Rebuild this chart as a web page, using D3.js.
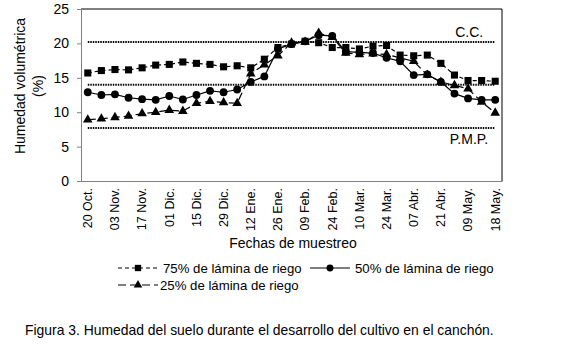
<!DOCTYPE html>
<html>
<head>
<meta charset="utf-8">
<script src="https://cdn.jsdelivr.net/npm/d3@7"></script>
<style>
  body { margin: 0; background: #fff; }
  svg text { font-family: "Liberation Sans", Arial, sans-serif; fill: #000; }
</style>
</head>
<body>
<svg width="587" height="353"></svg>
<script>
// 31 fechas de muestreo, etiqueta cada dos
const tickLabels = ['20 Oct.', '03 Nov.', '17 Nov.', '01 Dic.', '15 Dic.', '29 Dic.', '12 Ene.', '26 Ene.',
  '09 Feb.', '24 Feb.', '10 Mar.', '24 Mar.', '07 Abr.', '21 Abr.', '09 May.', '18 May.'];
const yTicks = [0, 5, 10, 15, 20, 25];

const lamina75 = [15.7, 16.05, 16.2, 16.15, 16.45, 16.85, 16.95, 17.3, 17.1, 16.95, 16.6, 16.75, 16.45, 17.7, 19.4,
  19.9, 20.3, 20.1, 19.4, 19.4, 19.2, 19.6, 19.7, 18.3, 18.2, 18.3, 17.1, 15.4, 14.6, 14.6, 14.5];
const lamina50 = [12.9, 12.5, 12.6, 12.1, 11.9, 11.8, 12.35, 11.85, 12.5, 13.1, 12.9, 13.3, 14.4, 15.2, 19.2,
  19.9, 20.3, 21.2, 21.1, 18.8, 18.7, 18.6, 17.9, 17.4, 15.4, 15.5, 14.4, 12.7, 12.0, 11.8, 11.8];
const lamina25 = [8.9, 9.05, 9.25, 9.45, 9.8, 10.0, 10.3, 10.15, 11.3, 11.6, 11.4, 11.3, 15.6, 16.9, 18.2,
  20.1, 20.2, 21.5, 20.9, 18.6, 18.4, 18.5, 18.4, 17.9, 17.4, 15.4, 14.4, 13.9, 13.4, 11.5, 9.9];

// capacidad de campo, valor intermedio, punto de marchitez permanente
const refLines = [20.2, 14.0, 7.7];
const refLabels = [{v: 20.2, t: 'C.C.', dx: -12, dy: -5}, {v: 7.7, t: 'P.M.P.', dx: -7, dy: 16}];

function whenLoaded(){
  const svg = d3.select('svg');
  const margin = {top: 9, left: 81, right: 85, bottom: 172};
  const width = +svg.attr('width');
  const height = +svg.attr('height');
  const innerWidth = width - margin.left - margin.right;
  const innerHeight = height - margin.top - margin.bottom;

  const n = lamina75.length;
  const xScale = d3.scaleBand().domain(d3.range(n)).range([0, innerWidth]);
  const xPos = i => xScale(i) + xScale.bandwidth() / 2;
  const yScale = d3.scaleLinear().domain([0, 25]).range([innerHeight, 0]);

  const g = svg.append('g').attr('transform', `translate(${margin.left},${margin.top})`);

  // marco
  g.append('line').attr('x1', 0).attr('x2', innerWidth).attr('y1', 0).attr('y2', 0).attr('stroke', '#000');
  g.append('line').attr('x1', innerWidth).attr('x2', innerWidth).attr('y1', 0).attr('y2', innerHeight).attr('stroke', '#000');

  // eje y
  const yAxisG = g.append('g')
    .call(d3.axisLeft(yScale).tickValues(yTicks).tickSize(4).tickPadding(8));
  yAxisG.selectAll('.domain, line').attr('stroke', '#808080');
  yAxisG.selectAll('text').style('font-size', '14px').style('font-family', '"Liberation Sans", Arial, sans-serif');

  // eje x
  const xAxisG = g.append('g')
    .attr('transform', `translate(0,${innerHeight})`)
    .call(d3.axisBottom(xScale)
      .tickValues(d3.range(0, n, 2))
      .tickFormat(i => tickLabels[i / 2])
      .tickSize(0)
      .tickSizeOuter(0));
  xAxisG.select('.domain').attr('stroke', '#808080');
  xAxisG.selectAll('text')
    .style('font-size', '12.5px')
    .style('font-family', '"Liberation Sans", Arial, sans-serif')
    .attr('transform', 'rotate(-90)')
    .attr('x', -7).attr('y', 0).attr('dy', '0.35em')
    .style('text-anchor', 'end');

  // lineas de referencia
  g.selectAll('.ref').data(refLines).enter().append('line')
    .attr('class', 'ref')
    .attr('x1', xPos(0)).attr('x2', xPos(n - 1))
    .attr('y1', d => yScale(d)).attr('y2', d => yScale(d))
    .attr('stroke', '#000').attr('stroke-width', 2).attr('stroke-dasharray', '1.5,1');
  g.selectAll('.reflab').data(refLabels).enter().append('text')
    .attr('x', d => xPos(n - 1) + d.dx).attr('y', d => yScale(d.v) + d.dy)
    .style('font-size', '14px').style('text-anchor', 'end')
    .text(d => d.t);

  const line = d3.line().x((d, i) => xPos(i)).y(d => yScale(d));

  const series = [
    {data: lamina75, dash: '4,3', mark: d3.symbolSquare, size: 50, label: '75% de lámina de riego'},
    {data: lamina25, dash: '8,4', mark: d3.symbolTriangle, size: 40, label: '25% de lámina de riego'},
    {data: lamina50, dash: null, mark: d3.symbolCircle, size: 48, label: '50% de lámina de riego'}
  ];

  series.forEach(s => {
    g.append('path').datum(s.data)
      .attr('fill', 'none').attr('stroke', '#000').attr('stroke-width', 1.2)
      .attr('stroke-dasharray', s.dash)
      .attr('d', line);
    g.selectAll(null).data(s.data).enter().append('path')
      .attr('transform', (d, i) => `translate(${xPos(i)},${yScale(d)})`)
      .attr('d', d3.symbol().type(s.mark).size(s.size))
      .attr('fill', '#000');
  });

  // titulos de ejes
  svg.append('text')
    .attr('transform', `translate(25,${margin.top + 77}) rotate(-90)`)
    .style('font-size', '14px').style('text-anchor', 'middle')
    .text('Humedad volumétrica');
  svg.append('text')
    .attr('transform', `translate(43,${margin.top + 77}) rotate(-90)`)
    .style('font-size', '14px').style('text-anchor', 'middle')
    .text('(%)');
  svg.append('text')
    .attr('x', 293).attr('y', 248)
    .style('font-size', '14px').style('text-anchor', 'middle')
    .text('Fechas de muestreo');

  // leyenda
  const legendPos = [{x: 118, y: 268}, {x: 118, y: 285}, {x: 310, y: 268}];
  series.forEach((s, k) => {
    const p = legendPos[k];
    const lg = svg.append('g').attr('transform', `translate(${p.x},${p.y})`);
    lg.append('line').attr('x1', 0).attr('x2', 40).attr('y1', 0).attr('y2', 0)
      .attr('stroke', '#000').attr('stroke-width', 1.2).attr('stroke-dasharray', s.dash);
    lg.append('path').attr('transform', 'translate(20,0)')
      .attr('d', d3.symbol().type(s.mark).size(s.size * 0.8)).attr('fill', '#000');
    lg.append('text').attr('x', k === 1 ? 42 : 45).attr('y', 5)
      .style('font-size', '13.2px').text(s.label);
  });

  // pie de figura
  svg.append('text')
    .attr('x', 25).attr('y', 335)
    .style('font-size', '13.9px')
    .text('Figura 3. Humedad del suelo durante el desarrollo del cultivo en el canchón.');
}

window.onload = whenLoaded;
</script>
</body>
</html>
